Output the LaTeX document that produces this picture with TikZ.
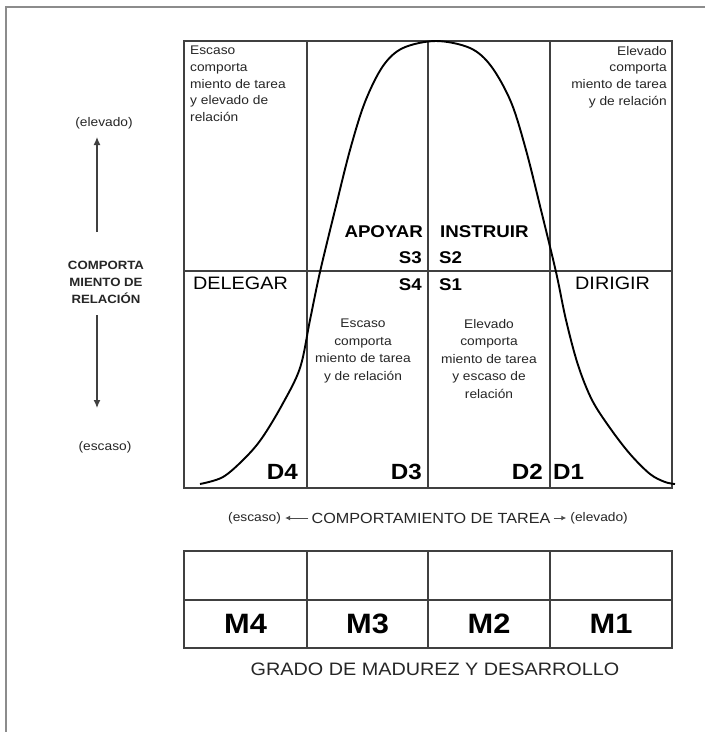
\documentclass[tikz,border=0pt]{standalone}
\usepackage{fontspec}
\setmainfont{Liberation Sans}[FakeStretch=1.1]
\usetikzlibrary{arrows.meta}
\newcommand\myfs[2]{\fontsize{#1}{#2}\selectfont}
\tikzset{
  gridline/.style={draw=black!75, line width=1.3pt},
  frameline/.style={draw=black!45, line width=1.6pt},
  curveline/.style={draw=black, line width=1.9pt, line join=round},
  small/.style={inner sep=0pt, text=black!85, font=\myfs{12.5}{16.6}},
  midtxt/.style={inner sep=0pt, text=black!85, font=\myfs{12.5}{17.5}, align=center},
  stlabel/.style={inner sep=0pt, font=\bfseries\myfs{17}{20}},
  reglabel/.style={inner sep=0pt, font=\myfs{18}{20}},
  dlabel/.style={inner sep=0pt, font=\bfseries\myfs{22}{24}},
  mlabel/.style={inner sep=0pt, font=\bfseries\myfs{28}{30}},
  axarrow/.style={draw=black!75, line width=1.3pt, -{Latex[length=8pt,width=7pt]}},
  tarrow/.style={draw=black!70, line width=1pt, -{Latex[length=5pt,width=5pt]}}
}
\begin{document}
\begin{tikzpicture}[x=1pt,y=-1pt]
\useasboundingbox (0,0) rectangle (705,732);
\fill[white] (0,0) rectangle (705,732);
% outer frame (top and left)
\draw[frameline] (6,732) -- (6,7) -- (705,7);

% main grid
\draw[gridline] (184,41) rectangle (672,488);
\draw[gridline] (307,41) -- (307,488);
\draw[gridline] (428,41) -- (428,488);
\draw[gridline] (550,41) -- (550,488);
\draw[gridline] (184,271) -- (672,271);

% bell curve
\draw[curveline] plot[smooth, tension=0.55] coordinates {
 (200,484) (223,477) (245,458) (262,438) (282,405) (300,368) (310,320)
 (320,272) (335,210) (350,150) (365,102) (383,66) (403,48) (436,41)
 (470,48) (491,66) (511,102) (526,150) (541,210) (556,272) (566,320)
 (578,365) (592,400) (610,428) (630,454) (650,474) (665,482) (675,484)};

% quadrant texts
\node[small, anchor=north west, align=left] (tl) at (190,46)
  {Escaso\\comporta\\miento de tarea\\y elevado de\\relación};
\node[small, anchor=north east, align=right] (tr) at (667,46)
  {Elevado\\comporta\\miento de tarea\\y de relación};
\node[midtxt, anchor=north] (ml) at (363,319)
  {Escaso\\comporta\\miento de tarea\\y de relación};
\node[midtxt, anchor=north] (mr) at (489,319)
  {Elevado\\comporta\\miento de tarea\\y escaso de\\relación};

% style labels
\node[stlabel, anchor=east] (apoyar) at (423,232) {APOYAR};
\node[stlabel, anchor=west] (instruir) at (440,232) {INSTRUIR};
\node[stlabel, anchor=east] (s3) at (422,258) {S3};
\node[stlabel, anchor=west] (s2) at (439,258) {S2};
\node[stlabel, anchor=east] (s4) at (422,285) {S4};
\node[stlabel, anchor=west] (s1) at (439,285) {S1};
\node[reglabel, anchor=west] (delegar) at (193,283) {DELEGAR};
\node[reglabel, anchor=west] (dirigir) at (575,283) {DIRIGIR};

% D labels
\node[dlabel, anchor=east] (d4) at (298,472) {D4};
\node[dlabel, anchor=east] (d3) at (422,472) {D3};
\node[dlabel, anchor=east] (d2) at (543,472) {D2};
\node[dlabel, anchor=west] (d1) at (553,472) {D1};

% vertical axis
\node[small] (yhi) at (104,123) {(elevado)};
\node[inner sep=0pt, font=\bfseries\myfs{12}{17}, align=center, text=black!85] (ylab) at (106,282)
  {COMPORTA\\MIENTO DE\\RELACIÓN};
\node[small] (ylo) at (105,447) {(escaso)};
\coordinate (yup0) at (97,232);
\coordinate (yup1) at (97,137);
\coordinate (ydn0) at (97,315);
\coordinate (ydn1) at (97,408);
\draw[axarrow] (yup0) -- (yup1);
\draw[axarrow] (ydn0) -- (ydn1);

% horizontal axis
\node[inner sep=0pt, font=\myfs{14.7}{17}, text=black!85] (xlab) at (431,518) {COMPORTAMIENTO DE TAREA};
\node[small, anchor=west] (xlo) at (228,518) {(escaso)};
\node[small, anchor=east] (xhi) at (628,518) {(elevado)};
\draw[tarrow] ([xshift=-3pt]xlab.west) -- ([xshift=4pt]xlo.east);
\draw[tarrow] ([xshift=3pt]xlab.east) -- ([xshift=-4pt]xhi.west);

% maturity table
\draw[gridline] (184,551) rectangle (672,648);
\draw[gridline] (184,600) -- (672,600);
\draw[gridline] (307,551) -- (307,648);
\draw[gridline] (428,551) -- (428,648);
\draw[gridline] (550,551) -- (550,648);
\node[mlabel] (m4) at (245.5,624) {M4};
\node[mlabel] (m3) at (367.5,624) {M3};
\node[mlabel] (m2) at (489,624) {M2};
\node[mlabel] (m1) at (611,624) {M1};
\node[inner sep=0pt, font=\myfs{18}{20}, text=black!85] (grado) at (435,669) {GRADO DE MADUREZ Y DESARROLLO};
\end{tikzpicture}
\end{document}
